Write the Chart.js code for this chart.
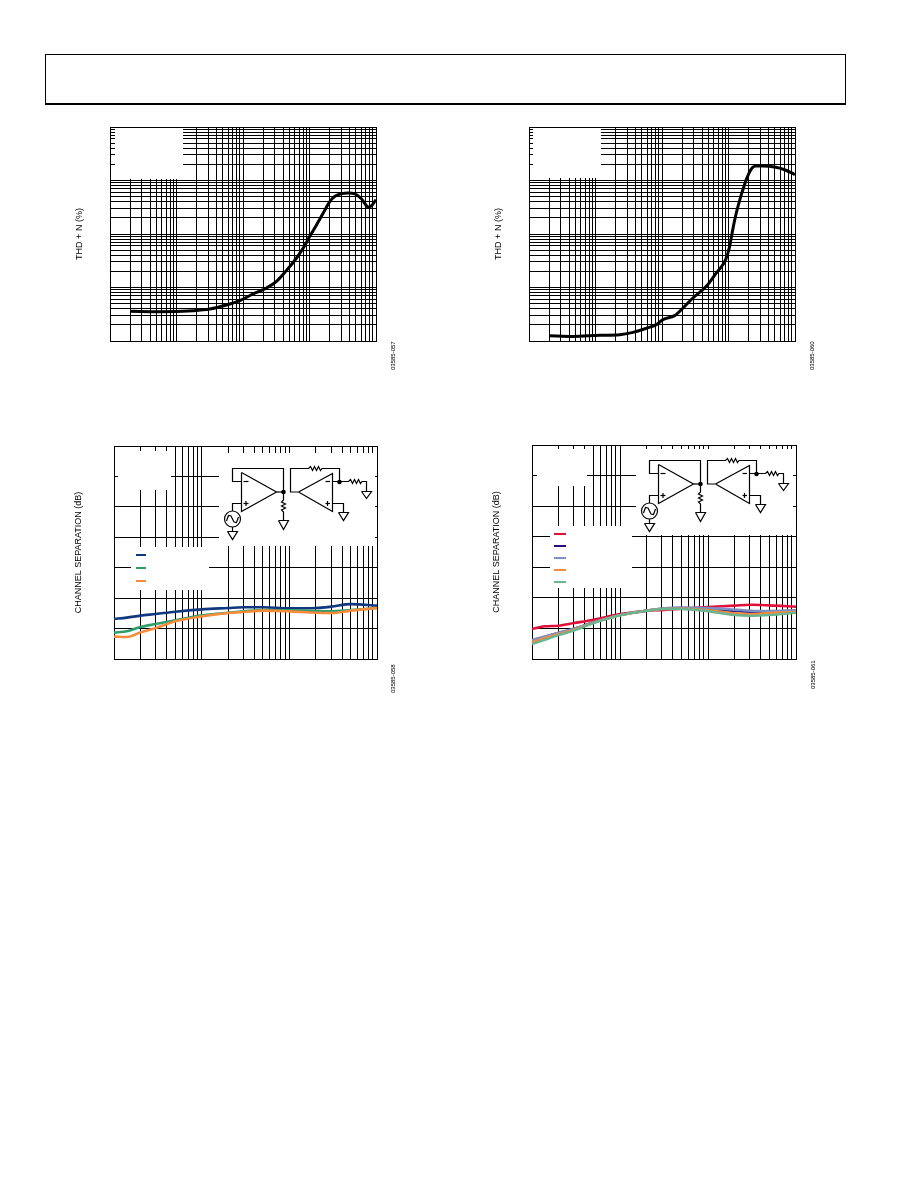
<!DOCTYPE html>
<html>
<head>
<meta charset="utf-8">
<title>THD + N and channel separation</title>
<script src="https://cdn.jsdelivr.net/npm/chart.js@4"></script>
<style>
    html, body { margin: 0; padding: 0; background: #fff; }
    #page { position: relative; width: 918px; height: 1188px; overflow: hidden; font-family: "Liberation Sans", sans-serif; }
    #frame { position: absolute; left: 45px; top: 54px; width: 799px; height: 48px; border: 1px solid #000; border-bottom-width: 2px; }
    canvas { position: absolute; }
    .figid { position: absolute; font-size: 6px; line-height: 7px; color: #000; white-space: nowrap; transform: rotate(-90deg); transform-origin: left top; will-change: transform; }
</style>
</head>
<body>
<div id="page">
    <div id="frame"></div>
    <canvas id="thd-left"></canvas>
    <canvas id="thd-right"></canvas>
    <canvas id="sep-left"></canvas>
    <canvas id="sep-right"></canvas>
    <span class="figid" style="left:390px;top:370px">03585-057</span>
    <span class="figid" style="left:809px;top:370px">03585-060</span>
    <span class="figid" style="left:390px;top:693px">03585-058</span>
    <span class="figid" style="left:810px;top:689px">03585-061</span>
</div>
<script>
// ------------- data ------------------------------------------------ //

var thdLeftFreq = [20, 56, 178, 316, 565, 895, 1420, 2260, 3190, 4520, 6380, 8050, 10100, 12800, 16100, 20300, 24100, 30400, 38300, 48300, 60800, 76700, 86000, 100000]
var thdLeftValues = [0.00359, 0.00353, 0.00369, 0.00396, 0.00471, 0.00568, 0.00757, 0.0098, 0.013, 0.0209, 0.0356, 0.0547, 0.0904, 0.149, 0.247, 0.408, 0.506, 0.568, 0.583, 0.56, 0.451, 0.32, 0.339, 0.439]

var thdRightFreq = [20, 46, 116, 231, 366, 581, 821, 1035, 1550, 2070, 2920, 4640, 6560, 9060, 10400, 11700, 13100, 15600, 18500, 22000, 25600, 33000, 49400, 69900, 100000]
var thdRightValues = [0.00126, 0.00122, 0.00128, 0.00131, 0.00145, 0.00173, 0.00202, 0.00251, 0.00298, 0.00414, 0.00637, 0.0105, 0.0187, 0.0331, 0.0589, 0.129, 0.247, 0.543, 1.04, 1.64, 1.87, 1.87, 1.79, 1.59, 1.29]

var sepFreq = [10, 14, 20, 30, 50, 100, 200, 300, 500, 1000, 2000, 3000, 5000, 10000]

var sepBlue = [113.7, 112.8, 111.5, 110.4, 108.9, 107.4, 106.5, 106.0, 106.0, 106.7, 106.5, 105.6, 103.9, 104.9]
var sepGreen = [122.7, 121.8, 119.0, 117.0, 114.6, 111.3, 109.6, 108.7, 107.8, 108.0, 108.5, 108.7, 107.8, 106.5]
var sepOrange = [125.3, 125.5, 122.5, 119.6, 115.2, 112.0, 109.8, 109.1, 108.2, 108.7, 109.6, 109.8, 108.2, 106.5]

var sepRed = [120.4, 118.6, 118.2, 116.5, 114.3, 110.6, 108.4, 108.0, 107.1, 106.0, 105.1, 104.5, 104.9, 105.8]
var sepNavy = [128.2, 125.6, 123.0, 120.4, 116.0, 111.2, 108.4, 107.1, 106.7, 107.3, 108.6, 109.0, 109.0, 108.4]
var sepSlate = [127.6, 125.2, 122.8, 120.2, 116.0, 111.2, 108.4, 107.1, 106.4, 106.7, 107.7, 108.4, 108.6, 108.2]
var sepAmber = [128.9, 126.3, 123.7, 120.8, 116.2, 111.4, 108.4, 107.3, 107.1, 108.2, 110.1, 110.6, 109.9, 109.3]
var sepSage = [130.2, 127.4, 124.3, 121.3, 116.5, 111.4, 108.4, 107.3, 107.3, 108.8, 111.2, 111.7, 111.2, 109.7]

var decadeSteps = [1, 2, 3, 4, 5, 6, 7, 8, 9]
var thdFreqDecades = [10, 100, 1000, 10000]
var thdValueDecades = [0.001, 0.01, 0.1, 1]
var sepFreqDecades = [10, 100, 1000]

// ------------- schematic, in page pixels of the lower left plot ----- //

var circuitLines = [
    [[241.5, 472.5], [241.5, 511.5], [276.5, 492], [241.5, 472.5]],
    [[241.5, 481.5], [232.5, 481.5], [232.5, 468.5], [283.5, 468.5], [283.5, 500], [281.5, 502], [285.5, 504], [281.5, 506], [285.5, 508], [281.5, 510], [283.5, 512], [283.5, 520.5]],
    [[276.5, 492], [283.5, 492]],
    [[278.5, 520.5], [288.5, 520.5], [283.5, 529.5], [278.5, 520.5]],
    [[241.5, 503.5], [232.5, 503.5], [232.5, 511]],
    [[232.5, 527], [232.5, 531.5]],
    [[227.5, 531.5], [237.5, 531.5], [232.5, 539.5], [227.5, 531.5]],
    [[226.5, 521], [228.5, 515.5], [231, 516], [234, 522], [236.5, 522.5], [238.5, 517]],
    [[298.5, 492], [332.5, 473.5], [332.5, 511.5], [298.5, 492]],
    [[298.5, 492], [290.5, 492], [290.5, 468.5], [308.5, 468.5], [310.5, 466.5], [312.5, 470.5], [314.5, 466.5], [316.5, 470.5], [318.5, 466.5], [320.5, 470.5], [322, 468.5], [339.5, 468.5], [339.5, 482]],
    [[332.5, 481.5], [348.5, 481.5], [350.5, 479.5], [352.5, 483.5], [354.5, 479.5], [356.5, 483.5], [358.5, 479.5], [360.5, 483.5], [362, 481.5], [366.5, 481.5], [366.5, 491.5]],
    [[361.5, 491.5], [371.5, 491.5], [366.5, 498.5], [361.5, 491.5]],
    [[332.5, 503.5], [343.5, 503.5], [343.5, 512.5]],
    [[338.5, 512.5], [348.5, 512.5], [343.5, 520.5], [338.5, 512.5]],
    [[243.5, 481.5], [248.5, 481.5]],
    [[243.5, 503.5], [248.5, 503.5]],
    [[246, 501], [246, 506]],
    [[325.5, 481.5], [330, 481.5]],
    [[325.5, 503.5], [330, 503.5]],
    [[327.5, 501], [327.5, 506]]
]
var circuitDots = [[283.5, 492], [339.5, 482]]
var circuitSource = [232.5, 519, 8]

// ------------- helpers --------------------------- //

function logTicks(decades) {
    var values = []
    decades.forEach(function (d) {
        decadeSteps.forEach(function (s) {
            values.push(Number((d * s).toPrecision(3)))
        })
    })
    values.push(decades[decades.length - 1] * 10)
    return values.map(function (v) { return { value: v } })
}

function pairUp(xs, ys) {
    return xs.map(function (x, i) { return { x: x, y: ys[i] } })
}

function curve(label, xs, ys, color, width, order) {
    return {
        label: label,
        data: pairUp(xs, ys),
        borderColor: color,
        backgroundColor: color,
        borderWidth: width,
        pointRadius: 0,
        fill: false,
        cubicInterpolationMode: "monotone",
        order: order
    }
}

// white patches where the original figure hid its labels, plus legend keys and schematic
var pagePatches = {
    id: "pagePatches",
    beforeDatasetsDraw: function (chart, args, opts) {
        var ctx = chart.ctx
        var ox = opts.left, oy = opts.top
        ctx.save()
        ctx.fillStyle = "#fff"
        opts.boxes.forEach(function (b) {
            ctx.fillRect(b[0] - ox, b[1] - oy, b[2], b[3])
        })
        if (opts.circuitShift) {
            var sx = opts.circuitShift[0] - ox, sy = opts.circuitShift[1] - oy
            ctx.strokeStyle = "#000"
            ctx.lineWidth = 1.2
            circuitLines.forEach(function (line) {
                ctx.beginPath()
                line.forEach(function (p, i) {
                    if (i === 0) ctx.moveTo(p[0] + sx, p[1] + sy)
                    else ctx.lineTo(p[0] + sx, p[1] + sy)
                })
                ctx.stroke()
            })
            ctx.beginPath()
            ctx.arc(circuitSource[0] + sx, circuitSource[1] + sy, circuitSource[2], 0, Math.PI * 2)
            ctx.stroke()
            ctx.fillStyle = "#000"
            circuitDots.forEach(function (d) {
                ctx.beginPath()
                ctx.arc(d[0] + sx, d[1] + sy, 2.3, 0, Math.PI * 2)
                ctx.fill()
            })
        }
        if (opts.keys) {
            chart.data.datasets.forEach(function (ds, i) {
                ctx.fillStyle = ds.borderColor
                ctx.fillRect(opts.keys.x - ox, opts.keys.y + i * opts.keys.gap - oy, opts.keys.w, 2)
            })
        }
        ctx.restore()
    }
}

function makeChart(id, place, datasets, xTicks, xRange, yScale, yTitle, titlePad, patches) {
    var canvas = document.getElementById(id)
    var extraLeft = 50, extraTop = 6, extraRight = 6, extraBottom = 6
    var left = place.x - extraLeft, top = place.y - extraTop
    canvas.style.left = left + "px"
    canvas.style.top = top + "px"
    canvas.width = place.w + extraLeft + extraRight
    canvas.height = place.h + extraTop + extraBottom
    canvas.style.width = canvas.width + "px"
    canvas.style.height = canvas.height + "px"
    patches.left = left
    patches.top = top

    return new Chart(canvas, {
        type: "line",
        data: { datasets: datasets },
        plugins: [pagePatches],
        options: {
            responsive: false,
            animation: false,
            devicePixelRatio: 1,
            layout: { padding: { left: 0, top: extraTop, right: extraRight, bottom: extraBottom } },
            plugins: { legend: { display: false }, tooltip: { enabled: false }, pagePatches: patches },
            scales: {
                x: {
                    type: "logarithmic",
                    min: xRange[0],
                    max: xRange[1],
                    afterBuildTicks: function (scale) { scale.ticks = logTicks(xTicks) },
                    afterFit: function (scale) { scale.height = 0 },
                    grid: { color: "#000", lineWidth: 1, drawTicks: false },
                    border: { color: "#000" },
                    ticks: { display: false, autoSkip: false }
                },
                y: Object.assign({
                    afterFit: function (scale) { scale.width = extraLeft },
                    grid: { color: "#000", lineWidth: 1, drawTicks: false },
                    border: { color: "#000" },
                    title: {
                        display: true,
                        text: yTitle,
                        color: "#000",
                        font: { family: "Liberation Sans", size: 9 },
                        padding: { top: titlePad, bottom: 0 }
                    }
                }, yScale)
            }
        }
    })
}

var thdYScale = {
    type: "logarithmic",
    min: 0.001,
    max: 10,
    afterBuildTicks: function (scale) { scale.ticks = logTicks(thdValueDecades) },
    ticks: { display: false, autoSkip: false }
}

var sepYScale = {
    type: "linear",
    min: 0,
    max: 140,
    reverse: true,
    ticks: { display: false, stepSize: 20, autoSkip: false }
}

// ------------- THD + N charts --------------------------- //

var thdLeftChart = makeChart("thd-left", { x: 110, y: 127, w: 266, h: 214 },
    [curve("THD + N", thdLeftFreq, thdLeftValues, "#000", 3, 0)],
    thdFreqDecades, [10, 100000], thdYScale, "THD + N (%)", 14,
    { boxes: [[115, 128, 68, 51]] })

var thdRightChart = makeChart("thd-right", { x: 529, y: 127, w: 266, h: 214 },
    [curve("THD + N", thdRightFreq, thdRightValues, "#000", 3, 0)],
    thdFreqDecades, [10, 100000], thdYScale, "THD + N (%)", 14,
    { boxes: [[533, 128, 68, 50]] })

// ------------- channel separation charts --------------------------- //

var sepLeftChart = makeChart("sep-left", { x: 114, y: 446, w: 263, h: 213 },
    [
        curve("Blue", sepFreq, sepBlue, "#11387f", 2.6, 3),
        curve("Green", sepFreq, sepGreen, "#2e9e6b", 2.6, 2),
        curve("Orange", sepFreq, sepOrange, "#f68b3c", 2.6, 1)
    ],
    sepFreqDecades, [10, 10000], sepYScale, "CHANNEL SEPARATION (dB)", 9,
    {
        boxes: [[118, 451, 53, 39], [219, 453, 156, 93], [131, 547, 78, 43]],
        circuitShift: [0, 0],
        keys: { x: 136, y: 554, w: 10, gap: 13 }
    })

var sepRightChart = makeChart("sep-right", { x: 532, y: 445, w: 264, h: 214 },
    [
        curve("Red", sepFreq, sepRed, "#e0103a", 2.6, 5),
        curve("Navy", sepFreq, sepNavy, "#2a0f80", 2.6, 4),
        curve("Slate", sepFreq, sepSlate, "#7a90c0", 2.6, 3),
        curve("Amber", sepFreq, sepAmber, "#f68b3c", 2.6, 2),
        curve("Sage", sepFreq, sepSage, "#6cb391", 2.6, 1)
    ],
    sepFreqDecades, [10, 10000], sepYScale, "CHANNEL SEPARATION (dB)", 9,
    {
        boxes: [[537, 449, 50, 37], [636, 449, 157, 86], [550, 526, 82, 62]],
        circuitShift: [417, -8],
        keys: { x: 554, y: 533, w: 12, gap: 12 }
    })
</script>
</body>
</html>
